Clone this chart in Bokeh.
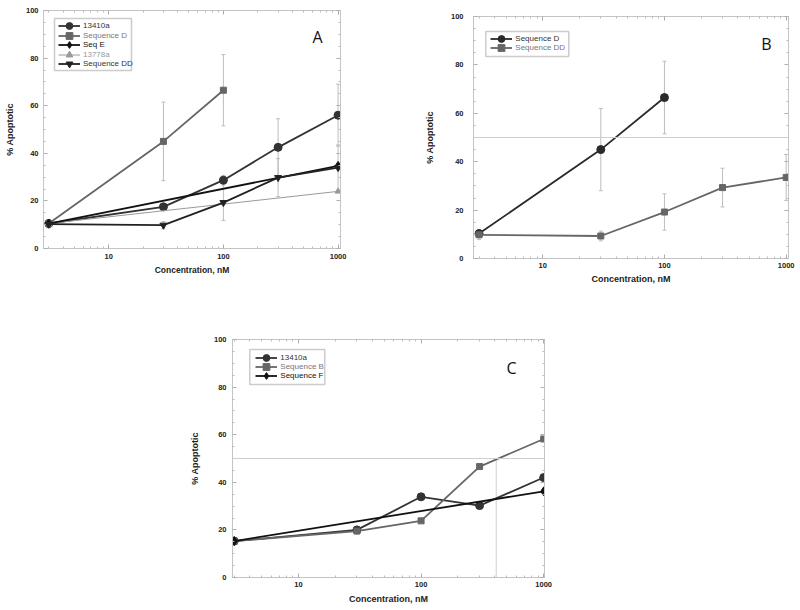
from bokeh.plotting import figure
from bokeh.models import (ColumnDataSource, Whisker, TeeHead, Legend, LegendItem, Label,
                          BoxAnnotation, Span, FixedTicker, SingleIntervalTicker, LogAxis,
                          LinearAxis, NumeralTickFormatter, CustomJSTickFormatter, Spacer)
from bokeh.layouts import row, column
from bokeh.embed import file_html
from bokeh.resources import INLINE

# ---------------- data ----------------
conc = [3, 30, 100, 300, 1000]
x_ticks = [10, 100, 1000]
x_tick_labels = ["10", "100", "1000"]
threshold = 50

# Panel A
a_13410a = [10.5, 17.5, 28.7, 42.5, 56.0]
a_13410a_err = [1.5, 1.5, 2.0, 12.0, 13.0]
a_seqD_x = [3, 30, 100]
a_seqD = [10.5, 45.0, 66.5]
a_seqD_err = [1.5, 16.5, 15.0]
a_seqE_x = [3, 1000]
a_seqE = [10.5, 34.7]
a_13778a_x = [3, 1000]
a_13778a = [10.5, 24.0]
a_seqDD = [10.2, 9.8, 19.3, 29.8, 34.0]
a_seqDD_err = [1.5, 1.5, 7.5, 8.0, 9.5]

# Panel B
b_seqD_x = [3, 30, 100]
b_seqD = [10.3, 45.0, 66.5]
b_seqD_err = [1.5, 17.0, 15.0]
b_seqDD = [9.8, 9.3, 19.2, 29.3, 33.5]
b_seqDD_err = [2.0, 2.0, 7.5, 8.0, 9.5]

# Panel C
c_13410a = [15.3, 20.0, 33.9, 30.2, 42.0]
c_seqB = [15.3, 19.5, 23.8, 46.6, 58.2]
c_seqF_x = [3, 1000]
c_seqF = [15.3, 36.2]
c_ic50 = 410

FONT = "Liberation Sans"
FRAME = "#c4c4c4"
minor_x = [m * d for d in (1, 10, 100) for m in range(2, 10) if m * d > 2]


def style_axes(p, tick_standoff, label_standoff, y_tick_standoff, y_label_standoff,
               xlabel_size="9px"):
    p.xaxis.ticker = FixedTicker(ticks=x_ticks, minor_ticks=minor_x)
    p.xaxis.major_label_overrides = {t: s for t, s in zip(x_ticks, x_tick_labels)}
    p.xaxis.formatter = NumeralTickFormatter(format="0")
    p.yaxis.ticker = SingleIntervalTicker(interval=20, num_minor_ticks=4)
    for ax in p.xaxis + p.yaxis:
        ax.axis_line_color = FRAME
        ax.major_tick_line_color = "#aaaaaa"
        ax.minor_tick_line_color = "#bbbbbb"
        ax.major_tick_in = 4
        ax.major_tick_out = 0
        ax.minor_tick_in = 2
        ax.minor_tick_out = 0
        ax.major_label_text_font = FONT
        ax.major_label_text_font_style = "bold"
        ax.major_label_text_font_size = "7.5px"
        ax.major_label_text_color = "#222222"
        ax.axis_label_text_font = FONT
        ax.axis_label_text_font_style = "bold"
        ax.axis_label_text_font_size = "9px"
        ax.axis_label_text_color = "#222222"
    p.xaxis.axis_label_text_font_size = xlabel_size
    p.xaxis.major_label_standoff = tick_standoff
    p.xaxis.axis_label_standoff = label_standoff
    p.yaxis.major_label_standoff = y_tick_standoff
    p.yaxis.axis_label_standoff = y_label_standoff
    p.xaxis.axis_label = "Concentration, nM"
    p.yaxis.axis_label = "% Apoptotic"
    # mirrored tick marks on top and right
    blank = CustomJSTickFormatter(code="return ''")
    top = LogAxis(ticker=FixedTicker(ticks=x_ticks, minor_ticks=minor_x), formatter=blank)
    right = LinearAxis(ticker=SingleIntervalTicker(interval=20, num_minor_ticks=4), formatter=blank)
    for ax in (top, right):
        ax.axis_line_color = FRAME
        ax.major_tick_line_color = "#aaaaaa"
        ax.minor_tick_line_color = "#bbbbbb"
        ax.major_tick_in = 4
        ax.major_tick_out = 0
        ax.minor_tick_in = 2
        ax.minor_tick_out = 0
        ax.major_label_standoff = 0
        ax.major_label_text_font_size = "1px"
    p.add_layout(top, "above")
    p.add_layout(right, "right")
    p.xgrid.visible = False
    p.ygrid.visible = False
    p.outline_line_color = FRAME


def make_fig(w, h, xr, bl, br, bt, bb):
    p = figure(width=w, height=h, x_axis_type="log", x_range=xr, y_range=(0, 100),
               output_backend="svg", toolbar_location=None,
               min_border_left=bl, min_border_right=br, min_border_top=bt, min_border_bottom=bb,
               background_fill_color="white", border_fill_color="white")
    return p


def series(p, x, y, marker, color, size, lw=1.8, fill=None):
    rl = p.line(x, y, line_color=color, line_width=lw)
    rs = p.scatter(x, y, marker=marker, size=size, line_color=color,
                   fill_color=fill or color)
    return [rl, rs]


def errbars(p, x, y, err):
    src = ColumnDataSource(dict(x=x, lo=[v - e for v, e in zip(y, err)],
                                hi=[v + e for v, e in zip(y, err)]))
    w = Whisker(source=src, base="x", lower="lo", upper="hi", line_color="#bdbdbd",
                line_width=1, level="underlay",
                upper_head=TeeHead(size=4, line_color="#bdbdbd", line_width=1),
                lower_head=TeeHead(size=4, line_color="#bdbdbd", line_width=1))
    p.add_layout(w)


GH = 17  # legend glyph box height (sets marker size inside legend)


def legend(p, entries, gx, first_center, row_h, box):
    bl, br, bt, bb = box
    p.add_layout(BoxAnnotation(left=bl, right=br, top=bt, bottom=bb,
                               left_units="screen", right_units="screen", top_units="screen",
                               bottom_units="screen", fill_color="white", fill_alpha=1,
                               line_color="#555555", line_width=1.5, level="annotation"))
    for i, (label, rends, color) in enumerate(entries):
        c = first_center - i * row_h
        lg = Legend(items=[LegendItem(label=label, renderers=rends)],
                    location=(gx, c - GH / 2), padding=0, margin=0, spacing=0,
                    border_line_alpha=0, background_fill_alpha=0, glyph_width=22,
                    glyph_height=GH, label_height=GH, label_standoff=3,
                    label_text_font=FONT, label_text_font_size="8px",
                    label_text_color=color, label_text_line_height=1.0)
        p.add_layout(lg)


def panel_label(p, text, x, y):
    p.add_layout(Label(x=x, y=y, x_units="screen", y_units="screen", text=text,
                       text_font="Open Sans", text_font_size="16px", text_color="#111111",
                       text_align="center", text_baseline="middle"))


# ---------------- Panel A ----------------
pA = make_fig(400, 300, (2.7, 1050), 43, 60, 10, 52)
style_axes(pA, 5, 3, 5, 8, xlabel_size="8.5px")
errbars(pA, a_seqD_x, a_seqD, a_seqD_err)
errbars(pA, conc, a_13410a, a_13410a_err)
errbars(pA, conc, a_seqDD, a_seqDD_err)
rA1 = series(pA, conc, a_13410a, "circle", "#333333", 8)
rA2 = series(pA, a_seqD_x, a_seqD, "square", "#666666", 6)
rA4 = series(pA, a_13778a_x, a_13778a, "triangle", "#9a9a9a", 6, lw=1)
rA3 = series(pA, a_seqE_x, a_seqE, "diamond", "#111111", 9)
rA5 = series(pA, conc, a_seqDD, "inverted_triangle", "#222222", 7)
legend(pA, [("13410a", rA1, "#333333"), ("Sequence D", rA2, "#777777"),
            ("Seq E", rA3, "#111111"), ("13778a", rA4, "#999999"),
            ("Sequence DD", rA5, "#333333")], 15, 222.3, 9.5, (11, 88, 230, 178))
panel_label(pA, "A", 274, 212)

# ---------------- Panel B ----------------
pB = make_fig(400, 300, (2.7, 1045), 73, 12, 16, 42)
style_axes(pB, 4, 3, 10, 13)
pB.add_layout(Span(location=threshold, dimension="width", line_color="#cfcfcf", line_width=1))
errbars(pB, b_seqD_x, b_seqD, b_seqD_err)
errbars(pB, conc, b_seqDD, b_seqDD_err)
rB1 = series(pB, b_seqD_x, b_seqD, "circle", "#2a2a2a", 8)
rB2 = series(pB, conc, b_seqDD, "square", "#666666", 6)
legend(pB, [("Sequence D", rB1, "#333333"), ("Sequence DD", rB2, "#777777")],
       17.3, 219.7, 9, (12.3, 95.3, 227, 202))
panel_label(pB, "B", 293, 215)

# ---------------- Panel C ----------------
pC = make_fig(400, 308, (2.9, 1015), 47, 41, 39, 31)
style_axes(pC, 4, 4, 6, 11)
pC.add_layout(Span(location=threshold, dimension="width", line_color="#cfcfcf", line_width=1))
pC.segment(x0=[c_ic50], y0=[0], x1=[c_ic50], y1=[threshold], line_color="#cfcfcf", line_width=1)
rC1 = series(pC, conc, c_13410a, "circle", "#333333", 8)
rC2 = series(pC, conc, c_seqB, "square", "#666666", 6)
rC3 = series(pC, c_seqF_x, c_seqF, "diamond", "#111111", 9)
legend(pC, [("13410a", rC1, "#333333"), ("Sequence B", rC2, "#777777"),
            ("Sequence F", rC3, "#111111")], 23.3, 219.7, 9, (17.3, 92.3, 228, 193))
panel_label(pC, "C", 279, 210)

layout = column(row(column(pA), column(pB)), row(Spacer(width=185, height=308), pC))
open("out.html", "w").write(file_html(layout, INLINE))
